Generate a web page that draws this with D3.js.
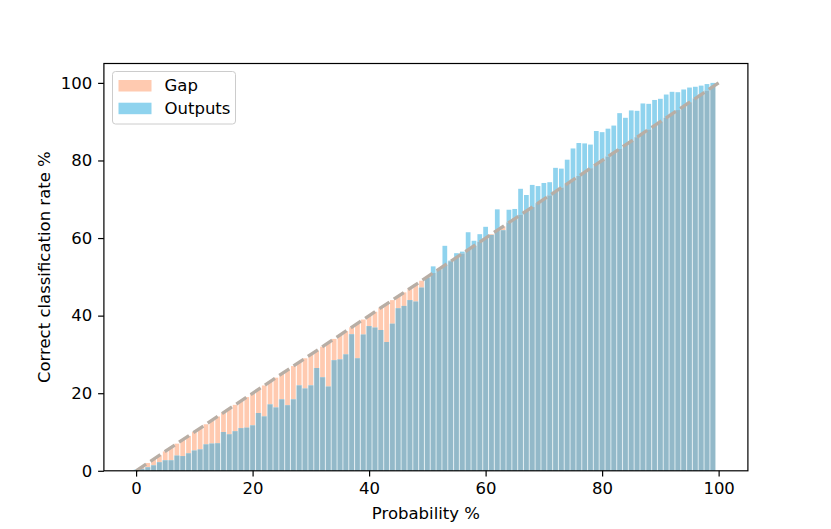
<!DOCTYPE html>
<html>
<head>
<meta charset="utf-8">
<script src="https://cdn.jsdelivr.net/npm/d3@7"></script>
<style>
  html, body { margin: 0; padding: 0; background: #fff; }
  svg { display: block; }
  text { font-family: "DejaVu Sans", sans-serif; fill: #000; }
</style>
</head>
<body>
<svg id="chart" width="831" height="529"></svg>
<script>
// ---- data ----
const bins = [0,1,2,3,4,5,6,7,8,9,10,11,12,13,14,15,16,17,18,19,20,21,22,23,24,25,26,27,28,29,30,31,32,33,34,35,36,37,38,39,40,41,42,43,44,45,46,47,48,49,50,51,52,53,54,55,56,57,58,59,60,61,62,63,64,65,66,67,68,69,70,71,72,73,74,75,76,77,78,79,80,81,82,83,84,85,86,87,88,89,90,91,92,93,94,95,96,97,98,99];
// expected (confidence) per bin -> "Gap" bars
const gapValues = [0,1,2,3,4,5,6,7,8,9,10,11,12,13,14,15,16,17,18,19,20,21,22,23,24,25,26,27,28,29,30,31,32,33,34,35,36,37,38,39,40,41,42,43,44,45,46,47,48,49,50,51,52,53,54,55,56,57,58,59,60,61,62,63,64,65,66,67,68,69,70,71,72,73,74,75,76,77,78,79,80,81,82,83,84,85,86,87,88,89,90,91,92,93,94,95,96,97,98,99];
// observed correct classification rate per bin -> "Outputs" bars
const outputValues = [0.3,0.5,0.9,1.4,2.2,2.7,2.7,3.9,3.8,4.5,5.2,5.5,6.8,7.0,7.1,10.0,9.4,10.2,11.0,11.1,11.7,14.9,14.0,17.1,16.3,18.4,16.9,18.4,22.0,21.2,22.0,26.5,24.1,21.7,28.5,28.7,30.0,35.2,29.0,35.1,37.3,36.9,36.3,33.2,37.9,41.9,42.5,44.0,43.6,47.2,49.8,52.7,51.9,58.0,54.2,56.1,56.5,61.5,59.3,61.0,62.9,60.8,67.4,62.0,67.3,67.5,72.7,71.1,73.7,73.4,74.2,74.4,78.1,77.9,80.2,83.1,84.5,84.4,84.1,87.6,87.3,88.2,89.0,92.2,91.0,92.9,92.8,94.7,94.6,95.6,95.9,97.0,97.7,97.6,98.3,98.8,99.0,99.3,99.7,100.0];
const diagX = [0, 100];
const diagY = [0, 100];
const xTicks = [0, 20, 40, 60, 80, 100];
const yTicks = [0, 20, 40, 60, 80, 100];
const legendLabels = ["Gap", "Outputs"];

// ---- layout ----
const W = 831, H = 529;
const m = { left: 103.9, right: 747.9, top: 63.5, bottom: 470.8 };
const colGap = "#ffcab0", colOut = "#8fd3ee", colOverlap = "#93b9c9", colSep = "#d6e6ec", colLine = "#b8aea5";

const svg = d3.select("#chart");
const x = d3.scaleLinear().domain([-5.525, 105.025]).range([m.left, m.right]);
const y = d3.scaleLinear().domain([0, 105]).range([m.bottom, m.top]);
const bw = x(1) - x(0);
const sepW = 1.1;

const data = bins.map((b, i) => ({ b, gap: gapValues[i], out: outputValues[i] }));

const plot = svg.append("g");
// gap bars
plot.selectAll("rect.gap").data(data).enter().append("rect")
  .attr("x", d => x(d.b - 0.5) + sepW / 2).attr("width", bw - sepW)
  .attr("y", d => y(d.gap)).attr("height", d => y(0) - y(d.gap))
  .attr("fill", colGap);
// outputs bars
plot.selectAll("rect.out").data(data).enter().append("rect")
  .attr("x", d => x(d.b - 0.5) + sepW / 2).attr("width", bw - sepW)
  .attr("y", d => y(d.out)).attr("height", d => y(0) - y(d.out))
  .attr("fill", colOut);
// overlap separators (light) + overlap fill
plot.selectAll("rect.sep").data(data).enter().append("rect")
  .attr("x", d => x(d.b - 0.5)).attr("width", bw)
  .attr("y", d => y(Math.min(d.gap, d.out))).attr("height", d => y(0) - y(Math.min(d.gap, d.out)))
  .attr("fill", colSep);
plot.selectAll("rect.ov").data(data).enter().append("rect")
  .attr("x", d => x(d.b - 0.5) + sepW / 2).attr("width", bw - sepW)
  .attr("y", d => y(Math.min(d.gap, d.out))).attr("height", d => y(0) - y(Math.min(d.gap, d.out)))
  .attr("fill", colOverlap);

// diagonal dashed line
const line = d3.line().x(d => x(d[0])).y(d => y(d[1]));
plot.append("path").datum(diagX.map((v, i) => [v, diagY[i]]))
  .attr("d", line).attr("fill", "none").attr("stroke", colLine)
  .attr("stroke-width", 3.3).attr("stroke-dasharray", "12,5.2");

// axes frame
svg.append("rect").attr("x", m.left).attr("y", m.top)
  .attr("width", m.right - m.left).attr("height", m.bottom - m.top)
  .attr("fill", "none").attr("stroke", "#000").attr("stroke-width", 1.2);

// axes
const fs = 16.5;
const xAxis = d3.axisBottom(x).tickValues(xTicks).tickSize(5.8).tickPadding(5.2).tickFormat(d3.format("d"));
const gx = svg.append("g").attr("transform", `translate(0,${m.bottom})`).call(xAxis);
gx.select(".domain").remove();
gx.selectAll("text").attr("font-size", fs).attr("font-family", "DejaVu Sans");
const yAxis = d3.axisLeft(y).tickValues(yTicks).tickSize(5.8).tickPadding(5.8).tickFormat(d3.format("d"));
const gy = svg.append("g").attr("transform", `translate(${m.left},0)`).call(yAxis);
gy.select(".domain").remove();
gy.selectAll("text").attr("font-size", fs).attr("font-family", "DejaVu Sans");
svg.selectAll(".tick line").attr("stroke", "#000").attr("stroke-width", 1.2);

// axis labels
svg.append("text").attr("x", (m.left + m.right) / 2).attr("y", 519)
  .attr("text-anchor", "middle").attr("font-size", fs).text("Probability %");
svg.append("text").attr("transform", `translate(50,${(m.top + m.bottom) / 2}) rotate(-90)`)
  .attr("text-anchor", "middle").attr("font-size", fs).text("Correct classification rate %");

// legend
const lg = svg.append("g");
lg.append("rect").attr("x", 112.5).attr("y", 71.5).attr("width", 123).attr("height", 52.5)
  .attr("rx", 3).attr("fill", "#fff").attr("fill-opacity", 0.8)
  .attr("stroke", "#cccccc").attr("stroke-width", 1);
const legendCols = [colGap, colOut];
legendLabels.forEach((lab, i) => {
  const cy = 85.5 + i * 22.7;
  lg.append("rect").attr("x", 118.5).attr("y", cy - 5.5).attr("width", 33).attr("height", 11.5)
    .attr("fill", legendCols[i]);
  lg.append("text").attr("x", 164.5).attr("y", cy + 5.8).attr("font-size", fs).text(lab);
});
</script>
</body>
</html>
